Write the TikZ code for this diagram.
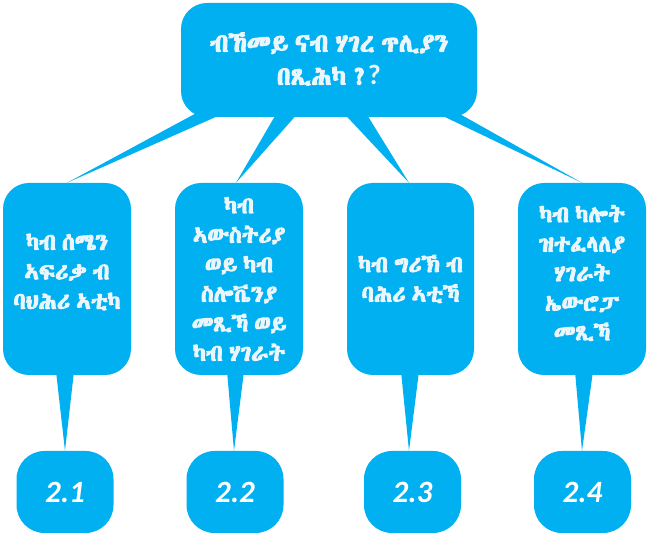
\documentclass[tikz,border=0pt]{standalone}
\usepackage{fontspec}
\usetikzlibrary{calc}
\setmainfont{Carlito}
\IfFontExistsTF{Abyssinica SIL}
  {\newfontfamily\eth[AutoFakeBold=4.5,WordSpace=0.6]{Abyssinica SIL}}
  {\IfFontExistsTF{FreeSerif}
     {\newfontfamily\eth[AutoFakeBold=4,WordSpace=0.6]{FreeSerif}}
     {\newfontfamily\eth{DejaVu Sans}}}
\definecolor{boxblue}{RGB}{0,176,240}
\definecolor{txtc}{RGB}{234,245,252}
\tikzset{
  bubble/.style={fill=boxblue, rounded corners=26pt, inner sep=0pt, align=center,
     text=txtc, font=\eth\bfseries\fontsize{23}{29.5}\selectfont},
  bigtext/.style={font=\eth\bfseries\fontsize{25.5}{33}\selectfont},
  numbox/.style={fill=boxblue, rounded corners=28pt, inner sep=0pt,
     minimum width=97pt, minimum height=82pt, text=white,
     font=\bfseries\itshape\fontsize{31}{30}\selectfont},
  tail/.style={fill=boxblue}
}
\begin{document}
\begin{tikzpicture}[x=1pt,y=-1pt]
\useasboundingbox (0,0) rectangle (649,534);
% boxes (shapes only, text drawn on top after tails)
\node[bubble, minimum width=296pt, minimum height=114pt] (top) at (329,60) {};
\node[bubble, minimum width=128pt, minimum height=192pt] (b1) at (67,279) {};
\node[bubble, minimum width=128pt, minimum height=192pt] (b2) at (239,279) {};
\node[bubble, minimum width=127pt, minimum height=192pt] (b3) at (410.5,279) {};
\node[bubble, minimum width=128pt, minimum height=192pt] (b4) at (582,279) {};
\node[numbox] (n1) at (65,492) {};
\node[numbox] (n2) at (235,492) {};
\node[numbox] (n3) at (412.5,492) {};
\node[numbox] (n4) at (582.5,492) {};
% tails from top box
\fill[tail] ($(top.south west)+(19,-6)$) -- ($(top.south west)+(48,-6)$) -- (b1.north) -- cycle;
\fill[tail] ($(top.south west)+(97,-6)$) -- ($(top.south west)+(119,-6)$) -- ($(b2.north)+(-3,0)$) -- cycle;
\fill[tail] ($(top.south west)+(161,-6)$) -- ($(top.south west)+(184,-6)$) -- ($(b3.north)+(-1.5,0)$) -- cycle;
\fill[tail] ($(top.south west)+(252,-6)$) -- ($(top.south west)+(274,-6)$) -- (b4.north) -- cycle;
% tails from the lower boxes
\fill[tail] ($(b1.south)+(-11,-4)$) -- ($(b1.south)+(7,-4)$) -- (n1.north) -- cycle;
\fill[tail] ($(b2.south)+(-12,-4)$) -- ($(b2.south)+(5,-4)$) -- ($(n2.north)+(-1,0)$) -- cycle;
\fill[tail] ($(b3.south)+(-9.5,-4)$) -- ($(b3.south)+(8.5,-4)$) -- ($(n3.north)+(-3.5,0)$) -- cycle;
\fill[tail] ($(b4.south)+(-7,-4)$) -- ($(b4.south)+(11,-4)$) -- ($(n4.north)+(-0.5,0)$) -- cycle;
% texts
\node[bubble, bigtext, fill=none] (toptext) at ($(top.center)+(0,-1)$) {ብኸመይ ናብ ሃገረ ጥሊያን\\በጺሕካ ?{\rmfamily\bfseries\fontsize{28}{33}\selectfont ?}};
\node[bubble, fill=none] (t1) at ($(b1.center)+(0,-7)$) {ካብ ሰሜን\\ኣፍሪቃ ብ\\ባህሕሪ ኣቲካ};
\node[bubble, fill=none] (t2) at (b2.center) {ካብ\\ኣውስትሪያ\\ወይ ካብ\\ስሎቬንያ\\መጺኻ ወይ\\ካብ ሃገራት};
\node[bubble, fill=none] (t3) at (b3.center) {ካብ ግሪኽ ብ\\ባሕሪ ኣቲኻ};
\node[bubble, fill=none] (t4) at ($(b4.center)+(0,-6)$) {ካብ ካሎት\\ዝተፈላለያ\\ሃገራት\\ኤውሮፓ\\መጺኻ};
\node[numbox, fill=none] (l1) at (n1.center) {2.1};
\node[numbox, fill=none] (l2) at (n2.center) {2.2};
\node[numbox, fill=none] (l3) at (n3.center) {2.3};
\node[numbox, fill=none] (l4) at (n4.center) {2.4};
\end{tikzpicture}
\end{document}
